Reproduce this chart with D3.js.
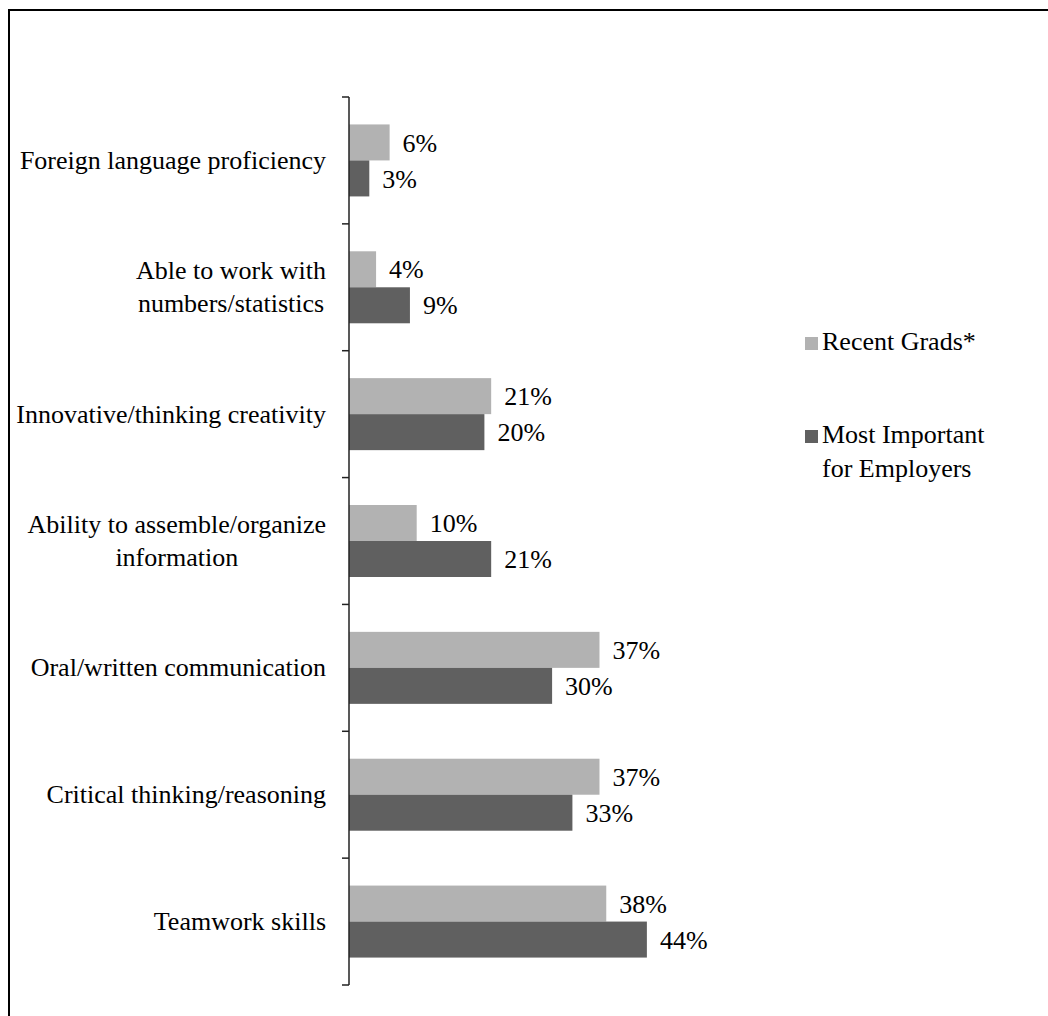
<!DOCTYPE html>
<html>
<head>
<meta charset="utf-8">
<script src="https://cdn.jsdelivr.net/npm/d3@7"></script>
<style>
  html, body { margin: 0; padding: 0; background: #fff; }
  svg { display: block; }
</style>
</head>
<body>
<svg id="chart" width="1048" height="1016"></svg>
<script>
// Skill categories, top to bottom ("\n" marks a line break in the axis label)
const categories = [
  "Foreign language proficiency",
  "Able to work with\nnumbers/statistics",
  "Innovative/thinking creativity",
  "Ability to assemble/organize\ninformation",
  "Oral/written communication",
  "Critical thinking/reasoning",
  "Teamwork skills"
];
// Series names as shown in the legend
const seriesNames = ["Recent Grads*", "Most Important\nfor Employers"];
// Percent values per category
const recentGrads = [6, 4, 21, 10, 37, 37, 38];
const employers   = [3, 9, 20, 21, 30, 33, 44];
const seriesColors = ["#b2b2b2", "#606060"];

const serif = "'Liberation Serif', Tinos, 'Times New Roman', Times, 'DejaVu Serif', serif";
const svg = d3.select("#chart")
  .style("font-family", serif);
const fontSize = 26;
const lineH = 33;

// Frame around the chart area (runs off the right and bottom edges)
svg.append("rect")
  .attr("x", 9).attr("y", 10)
  .attr("width", 1100).attr("height", 1100)
  .attr("fill", "none").attr("stroke", "#000").attr("stroke-width", 2);

const rows = categories.map((c, i) => ({ cat: c, values: [recentGrads[i], employers[i]] }));

const x = d3.scaleLinear().domain([0, 50]).range([349, 349 + 6.77 * 50]);
const y0 = d3.scaleBand().domain(categories).range([97, 985]).paddingInner(0).paddingOuter(0);
const y1 = d3.scaleBand().domain([0, 1]).range([0, y0.bandwidth()]).paddingInner(0).paddingOuter(0.762);

// Bars and value labels
const groups = svg.append("g").selectAll("g")
  .data(rows).join("g")
  .attr("transform", d => `translate(0,${y0(d.cat)})`);

groups.selectAll("rect")
  .data(d => d.values.map((v, k) => ({ v, k })))
  .join("rect")
  .attr("x", x(0))
  .attr("y", d => y1(d.k))
  .attr("width", d => x(d.v) - x(0))
  .attr("height", y1.bandwidth())
  .attr("fill", d => seriesColors[d.k]);

groups.selectAll("text.val")
  .data(d => d.values.map((v, k) => ({ v, k })))
  .join("text")
  .attr("class", "val")
  .attr("x", d => x(d.v) + 13)
  .attr("y", d => y1(d.k) + y1.bandwidth() / 2)
  .attr("dy", "0.35em")
  .attr("font-family", serif)
  .attr("font-size", fontSize)
  .attr("fill", "#000")
  .text(d => d.v + "%");

// Vertical axis with ticks at the category boundaries
const axisG = svg.append("g");
axisG.append("line")
  .attr("x1", x(0)).attr("x2", x(0))
  .attr("y1", y0.range()[0]).attr("y2", y0.range()[1])
  .attr("stroke", "#222").attr("stroke-width", 1.5);
const boundaries = categories.map(c => y0(c)).concat([y0.range()[1]]);
axisG.selectAll("line.tick")
  .data(boundaries).join("line")
  .attr("class", "tick")
  .attr("x1", x(0) - 7).attr("x2", x(0))
  .attr("y1", d => d).attr("y2", d => d)
  .attr("stroke", "#222").attr("stroke-width", 1.5);

// Category labels: block right-aligned to the axis, lines centred within the block
const labelRight = 326;
categories.forEach(c => {
  const lines = c.split("\n");
  const cy = y0(c) + y0.bandwidth() / 2;
  const g = svg.append("g");
  const texts = lines.map((ln, i) => g.append("text")
    .attr("font-family", serif)
    .attr("font-size", fontSize)
    .attr("fill", "#000")
    .attr("text-anchor", "middle")
    .attr("y", cy + (i - (lines.length - 1) / 2) * lineH + 8.5)
    .text(ln));
  const maxW = d3.max(texts, t => t.node().getComputedTextLength());
  texts.forEach(t => t.attr("x", labelRight - maxW / 2));
});

// Legend
const legend = svg.append("g");
const legendTop = [350, 443];
seriesNames.forEach((name, k) => {
  legend.append("rect")
    .attr("x", 805).attr("y", legendTop[k] - 13)
    .attr("width", 13).attr("height", 13)
    .attr("fill", seriesColors[k]);
  name.split("\n").forEach((ln, i) => {
    legend.append("text")
      .attr("x", 822)
      .attr("y", legendTop[k] + i * 34)
      .attr("font-family", serif)
      .attr("font-size", fontSize)
      .attr("fill", "#000")
      .text(ln);
  });
});
</script>
</body>
</html>
